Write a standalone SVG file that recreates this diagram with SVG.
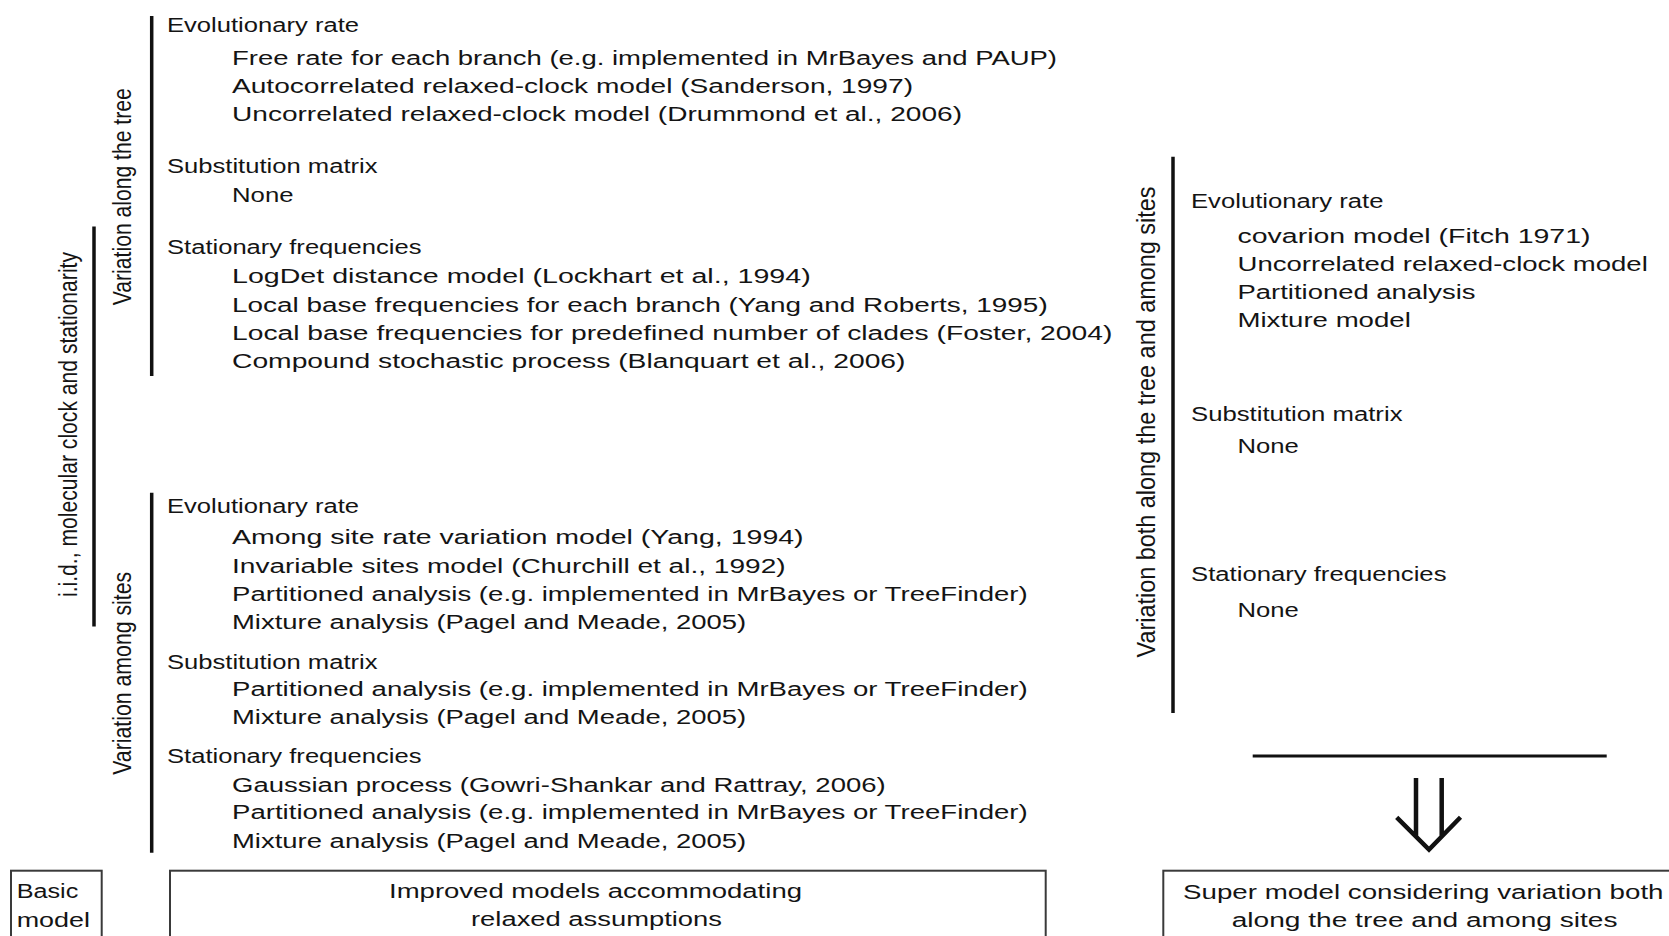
<svg xmlns="http://www.w3.org/2000/svg" width="1669" height="936" viewBox="0 0 1669 936">
  <style>
    text { font-family: "Liberation Sans", Arial, Helvetica, sans-serif; fill: #141414; }
    .t { font-size: 20px; }
    .v { font-size: 26.5px; text-anchor: middle; }
    .bar { stroke: #111; stroke-width: 3.5; fill: none; }
    .box { fill: #fff; stroke: #3a3a3a; stroke-width: 2; }
    .rule { stroke: #111; stroke-width: 3.2; fill: none; }
    .arrow { stroke: #111; stroke-width: 4.5; fill: none; stroke-linecap: butt; stroke-linejoin: miter; }
  </style>
  <rect x="0" y="0" width="1669" height="936" fill="#fff"/>

  <!-- Outer bracket: i.i.d., molecular clock and stationarity -->
  <g id="iid">
    <line class="bar" x1="94" y1="226.5" x2="94" y2="626.5"/>
    <text class="v" transform="translate(76.5,424.5) rotate(-90)" textLength="345" lengthAdjust="spacingAndGlyphs">i.i.d., molecular clock and stationarity</text>
  </g>

  <!-- Variation along the tree -->
  <g id="along-tree">
    <line class="bar" x1="151.7" y1="16" x2="151.7" y2="376"/>
    <text class="v" transform="translate(131,196.7) rotate(-90)" textLength="217" lengthAdjust="spacingAndGlyphs">Variation along the tree</text>
    <g class="t">
      <text x="167" y="31.7" textLength="192" lengthAdjust="spacingAndGlyphs">Evolutionary rate</text>
      <text x="232" y="65" textLength="825" lengthAdjust="spacingAndGlyphs">Free rate for each branch (e.g. implemented in MrBayes and PAUP)</text>
      <text x="232" y="93" textLength="681" lengthAdjust="spacingAndGlyphs">Autocorrelated relaxed-clock model (Sanderson, 1997)</text>
      <text x="232" y="121" textLength="730" lengthAdjust="spacingAndGlyphs">Uncorrelated relaxed-clock model (Drummond et al., 2006)</text>
      <text x="167" y="172.7" textLength="210.5" lengthAdjust="spacingAndGlyphs">Substitution matrix</text>
      <text x="232" y="202" textLength="61.5" lengthAdjust="spacingAndGlyphs">None</text>
      <text x="167" y="254" textLength="254.5" lengthAdjust="spacingAndGlyphs">Stationary frequencies</text>
      <text x="232" y="283" textLength="578.7" lengthAdjust="spacingAndGlyphs">LogDet distance model (Lockhart et al., 1994)</text>
      <text x="232" y="312" textLength="815.7" lengthAdjust="spacingAndGlyphs">Local base frequencies for each branch (Yang and Roberts, 1995)</text>
      <text x="232" y="340" textLength="880.3" lengthAdjust="spacingAndGlyphs">Local base frequencies for predefined number of clades (Foster, 2004)</text>
      <text x="232" y="368" textLength="673.5" lengthAdjust="spacingAndGlyphs">Compound stochastic process (Blanquart et al., 2006)</text>
    </g>
  </g>

  <!-- Variation among sites -->
  <g id="among-sites">
    <line class="bar" x1="151.7" y1="492.7" x2="151.7" y2="852.7"/>
    <text class="v" transform="translate(131,673.3) rotate(-90)" textLength="203" lengthAdjust="spacingAndGlyphs">Variation among sites</text>
    <g class="t">
      <text x="167" y="512.7" textLength="192" lengthAdjust="spacingAndGlyphs">Evolutionary rate</text>
      <text x="232" y="544.3" textLength="571.6" lengthAdjust="spacingAndGlyphs">Among site rate variation model (Yang, 1994)</text>
      <text x="232" y="572.7" textLength="553.6" lengthAdjust="spacingAndGlyphs">Invariable sites model (Churchill et al., 1992)</text>
      <text x="232" y="601" textLength="795.7" lengthAdjust="spacingAndGlyphs">Partitioned analysis (e.g. implemented in MrBayes or TreeFinder)</text>
      <text x="232" y="629.3" textLength="514.2" lengthAdjust="spacingAndGlyphs">Mixture analysis (Pagel and Meade, 2005)</text>
      <text x="167" y="669.3" textLength="210.5" lengthAdjust="spacingAndGlyphs">Substitution matrix</text>
      <text x="232" y="696" textLength="795.7" lengthAdjust="spacingAndGlyphs">Partitioned analysis (e.g. implemented in MrBayes or TreeFinder)</text>
      <text x="232" y="724.3" textLength="514.2" lengthAdjust="spacingAndGlyphs">Mixture analysis (Pagel and Meade, 2005)</text>
      <text x="167" y="762.7" textLength="254.5" lengthAdjust="spacingAndGlyphs">Stationary frequencies</text>
      <text x="232" y="791.7" textLength="653.7" lengthAdjust="spacingAndGlyphs">Gaussian process (Gowri-Shankar and Rattray, 2006)</text>
      <text x="232" y="819.3" textLength="795.7" lengthAdjust="spacingAndGlyphs">Partitioned analysis (e.g. implemented in MrBayes or TreeFinder)</text>
      <text x="232" y="847.7" textLength="514.2" lengthAdjust="spacingAndGlyphs">Mixture analysis (Pagel and Meade, 2005)</text>
    </g>
  </g>

  <!-- Variation both along the tree and among sites -->
  <g id="both">
    <line class="bar" x1="1173" y1="156.7" x2="1173" y2="713"/>
    <text class="v" transform="translate(1155,422) rotate(-90)" textLength="471" lengthAdjust="spacingAndGlyphs">Variation both along the tree and among sites</text>
    <g class="t">
      <text x="1191" y="208.3" textLength="192.5" lengthAdjust="spacingAndGlyphs">Evolutionary rate</text>
      <text x="1237.5" y="242.7" textLength="353" lengthAdjust="spacingAndGlyphs">covarion model (Fitch 1971)</text>
      <text x="1237.5" y="270.7" textLength="410.3" lengthAdjust="spacingAndGlyphs">Uncorrelated relaxed-clock model</text>
      <text x="1237.5" y="299" textLength="238" lengthAdjust="spacingAndGlyphs">Partitioned analysis</text>
      <text x="1237.5" y="326.7" textLength="173.3" lengthAdjust="spacingAndGlyphs">Mixture model</text>
      <text x="1191" y="420.7" textLength="211.5" lengthAdjust="spacingAndGlyphs">Substitution matrix</text>
      <text x="1237.5" y="452.7" textLength="61.3" lengthAdjust="spacingAndGlyphs">None</text>
      <text x="1191" y="580.7" textLength="255.5" lengthAdjust="spacingAndGlyphs">Stationary frequencies</text>
      <text x="1237.5" y="616.7" textLength="61.3" lengthAdjust="spacingAndGlyphs">None</text>
    </g>
  </g>

  <!-- Model boxes along the bottom -->
  <g id="basic-model">
    <rect class="box" x="11" y="870.7" width="90.7" height="80"/>
    <text class="t" x="16.7" y="898" textLength="61.6" lengthAdjust="spacingAndGlyphs">Basic</text>
    <text class="t" x="16.7" y="926.7" textLength="73.3" lengthAdjust="spacingAndGlyphs">model</text>
  </g>
  <g id="improved-models">
    <rect class="box" x="170" y="870.7" width="875.7" height="80"/>
    <text class="t" x="389" y="898" textLength="413" lengthAdjust="spacingAndGlyphs">Improved models accommodating</text>
    <text class="t" x="471" y="926.2" textLength="251" lengthAdjust="spacingAndGlyphs">relaxed assumptions</text>
  </g>
  <g id="super-model">
    <rect class="box" x="1163.3" y="870.7" width="530" height="80"/>
    <text class="t" x="1183" y="899.3" textLength="480.5" lengthAdjust="spacingAndGlyphs">Super model considering variation both</text>
    <text class="t" x="1231.7" y="926.7" textLength="385.8" lengthAdjust="spacingAndGlyphs">along the tree and among sites</text>
  </g>

  <!-- Summary rule and double arrow down to the super model -->
  <g id="connectors">
    <line class="rule" x1="1252.7" y1="756" x2="1606.7" y2="756"/>
    <path class="arrow" d="M1416 778 V837 M1441.7 778 V837 M1396.7 817.3 L1429 849.5 L1460.5 817.3"/>
  </g>
</svg>
